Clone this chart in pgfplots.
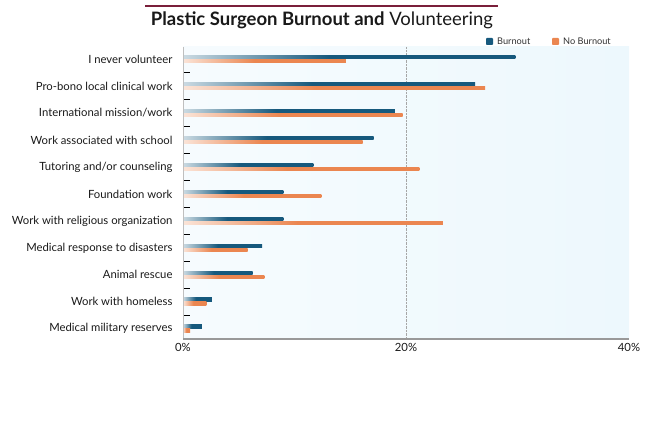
\documentclass[border=0pt]{standalone}
\usepackage{pgfplots}
\pgfplotsset{compat=1.18}
\usepackage{fontspec}
\setmainfont{Lato}
\definecolor{burn}{HTML}{16597D}
\definecolor{noburn}{HTML}{EB8650}
\definecolor{bgblue}{HTML}{EDF8FD}
\definecolor{titleline}{HTML}{7A1F3A}
\pgfdeclarehorizontalshading{burnshade}{100bp}{color(0bp)=(burn!22!white); color(25bp)=(burn!22!white); color(47bp)=(burn); color(100bp)=(burn)}
\pgfdeclarehorizontalshading{noburnshade}{100bp}{color(0bp)=(noburn!22!white); color(25bp)=(noburn!22!white); color(47bp)=(noburn); color(100bp)=(noburn)}
\newcommand\Bbar[2]{\addplot[draw=none, shading=burnshade, bar shift=2pt] coordinates {(#1,#2)};}
\newcommand\Nbar[2]{\addplot[draw=none, shading=noburnshade, bar shift=-2pt] coordinates {(#1,#2)};}
\begin{document}
\begin{tikzpicture}
\path (0pt,0pt) rectangle (645pt,439pt);
\draw[titleline, line width=1.6pt] (145pt,433pt) -- (498pt,433pt);
\node[anchor=base, font=\fontsize{18.5}{22}\selectfont, text=black!90] at (322pt,413pt) {\textbf{Plastic Surgeon Burnout and} Volunteering};
% legend
\fill[burn, rounded corners=0.8pt] (486pt,394pt) rectangle (493pt,401pt);
\node[anchor=base west, font=\fontsize{9.2}{11}\selectfont, text=black!80, inner sep=0] at (497pt,394.5pt) {Burnout};
\fill[noburn, rounded corners=0.8pt] (552pt,394pt) rectangle (559pt,401pt);
\node[anchor=base west, font=\fontsize{9.2}{11}\selectfont, text=black!80, inner sep=0] at (563pt,394.5pt) {No Burnout};
\begin{axis}[
  at={(183pt,100pt)}, anchor=south west,
  scale only axis, width=446pt, height=292pt,
  xmin=0, xmax=40, ymin=-0.45, ymax=10.38,
  y dir=reverse,
  xbar, bar width=3.6pt,
  axis background/.style={left color=white!50!bgblue, right color=bgblue},
  axis line style={draw=none},
  xtick={0,20,40}, xticklabels={0\%,20\%,40\%},
  xtick style={draw=none},
  ytick={0,...,10},
  yticklabels={I never volunteer,Pro-bono local clinical work,International mission/work,Work associated with school,Tutoring and/or counseling,Foundation work,Work with religious organization,Medical response to disasters,Animal rescue,Work with homeless,Medical military reserves},
  minor ytick={0.5,1.5,...,9.5},
  ytick pos=left,
  ytick style={draw=none},
  minor tick length=7pt,
  minor y tick style={draw=black, line width=0.5pt},
  tick align=inside,
  ticklabel style={font=\fontsize{11.3}{13}\selectfont, text=black!90},
  xticklabel style={yshift=-1pt},
  yticklabel style={xshift=-7pt},
  clip=false,
]
\draw[black!35, densely dotted] (axis cs:20,-0.45) -- (axis cs:20,10.38);
% Burnout
\Bbar{29.8}{0} \Bbar{26.2}{1} \Bbar{19.0}{2} \Bbar{17.1}{3} \Bbar{11.7}{4} \Bbar{9.0}{5}
\Bbar{9.0}{6} \Bbar{7.1}{7} \Bbar{6.25}{8} \Bbar{2.6}{9} \Bbar{1.7}{10}
% No Burnout
\Nbar{14.6}{0} \Nbar{27.1}{1} \Nbar{19.7}{2} \Nbar{16.1}{3} \Nbar{21.2}{4} \Nbar{12.4}{5}
\Nbar{23.3}{6} \Nbar{5.8}{7} \Nbar{7.3}{8} \Nbar{2.1}{9} \Nbar{0.65}{10}
\draw[black!25, line width=0.4pt] (axis cs:0,-0.45) -- (axis cs:0,10.38);
\draw[black!40, line width=1.4pt] (axis cs:0,10.38) -- (axis cs:40,10.38);
\end{axis}
\end{tikzpicture}
\end{document}
